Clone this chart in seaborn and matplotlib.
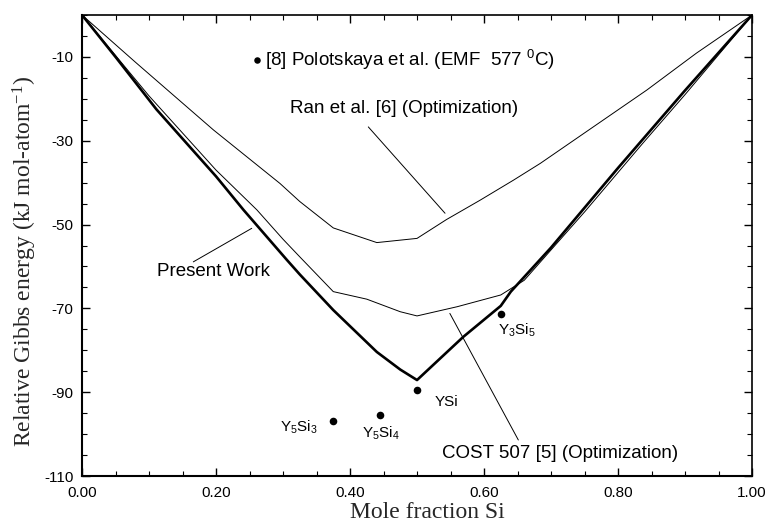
import numpy as np
import pandas as pd
import matplotlib
matplotlib.use("Agg")
import matplotlib.pyplot as plt
from matplotlib.ticker import MultipleLocator, FixedLocator
import seaborn as sns

# ---- data ----
present_x = [0.0, 0.05, 0.111, 0.2, 0.241, 0.305, 0.325, 0.375, 0.44, 0.475, 0.5,
             0.569, 0.625, 0.64, 0.7, 0.8, 0.9, 1.0]
present_y = [0.0, -10.0, -22.5, -38.5, -46.5, -58.3, -61.9, -70.4, -80.4, -84.6, -87.1,
             -76.8, -69.4, -66.0, -55.5, -36.5, -18.0, 0.0]

cost_x = [0.0, 0.1, 0.2, 0.261, 0.3, 0.325, 0.375, 0.425, 0.475, 0.5, 0.56, 0.625,
          0.66, 0.75, 0.837, 0.9, 1.0]
cost_y = [0.0, -19.3, -37.0, -46.5, -53.5, -57.7, -66.0, -67.8, -70.8, -71.8, -69.6, -66.8,
          -63.3, -47.0, -30.6, -19.0, 0.0]

ran_x = [0.0, 0.08, 0.196, 0.2955, 0.325, 0.375, 0.44, 0.5, 0.544, 0.594, 0.644,
         0.684, 0.843, 0.917, 1.0]
ran_y = [0.0, -11.3, -27.4, -40.2, -44.5, -50.8, -54.3, -53.3, -48.8, -44.2, -39.4,
         -35.4, -17.9, -9.1, 0.0]

compound_names = [r"Y$\mathregular{_5}$Si$\mathregular{_3}$",
                  r"Y$\mathregular{_5}$Si$\mathregular{_4}$",
                  "YSi",
                  r"Y$\mathregular{_3}$Si$\mathregular{_5}$"]
compound_x = [0.375, 0.444, 0.5, 0.625]
compound_y = [-96.9, -95.5, -89.5, -71.4]
compound_label_x = [0.352, 0.4175, 0.527, 0.621]
compound_label_y = [-98.3, -99.8, -92.3, -75.2]
compound_label_ha = ["right", "left", "left", "left"]

emf_x = [0.2607]
emf_y = [-10.7]
emf_label = r"[8] Polotskaya et al. (EMF  577 $\mathregular{^0}$C)"

curve_labels = ["Ran et al. [6] (Optimization)", "Present Work", "COST 507 [5] (Optimization)"]
curve_label_xy = [(0.3104, -22.3), (0.1115, -61.3), (0.537, -104.6)]
curve_leader_from = [(0.4273, -26.7), (0.1661, -58.9), (0.6512, -101.4)]
curve_leader_to = [(0.5418, -47.3), (0.2533, -50.9), (0.549, -71.2)]

x_ticks = [0.0, 0.2, 0.4, 0.6, 0.8, 1.0]
x_ticklabels = ["0.00", "0.20", "0.40", "0.60", "0.80", "1.00"]
y_ticks = [-10, -30, -50, -70, -90, -110]

# ---- style ----
sns.set_theme(style="ticks")
plt.rcParams["font.family"] = ["Liberation Sans", "DejaVu Sans"]
plt.rcParams["xtick.direction"] = "in"
plt.rcParams["ytick.direction"] = "in"

fig = plt.figure(figsize=(7.68, 5.25), dpi=100)
ax = fig.add_axes([0.1068, 0.0933, 0.9792 - 0.1068, 0.9714 - 0.0933])

sns.lineplot(x=present_x, y=present_y, ax=ax, color="black", linewidth=1.9,
             sort=False, estimator=None)
sns.lineplot(x=cost_x, y=cost_y, ax=ax, color="black", linewidth=0.7,
             sort=False, estimator=None)
sns.lineplot(x=ran_x, y=ran_y, ax=ax, color="black", linewidth=0.7,
             sort=False, estimator=None)

sns.scatterplot(x=compound_x, y=compound_y, ax=ax, color="black", s=30,
                edgecolor="black", linewidth=0, zorder=5)
sns.scatterplot(x=emf_x, y=emf_y, ax=ax, color="black", s=22,
                edgecolor="black", linewidth=0, zorder=5)

for name, lx, ly, ha in zip(compound_names, compound_label_x, compound_label_y, compound_label_ha):
    ax.text(lx, ly, name, ha=ha, va="center", fontsize=11, color="black")

ax.text(0.273, emf_y[0], emf_label, ha="left", va="center", fontsize=13.5, color="black")

for lab, (tx, ty), p0, p1 in zip(curve_labels, curve_label_xy, curve_leader_from, curve_leader_to):
    ax.text(tx, ty, lab, ha="left", va="center", fontsize=13.5, color="black")
    ax.annotate("", xy=p1, xytext=p0,
                arrowprops=dict(arrowstyle="-", color="black", lw=0.7, shrinkA=0, shrinkB=0))

ax.set_xlim(0, 1)
ax.set_ylim(-110, 0)
ax.xaxis.set_major_locator(FixedLocator(x_ticks))
ax.set_xticklabels(x_ticklabels)
ax.xaxis.set_minor_locator(MultipleLocator(0.05))
ax.yaxis.set_major_locator(FixedLocator(y_ticks))
ax.set_yticklabels([str(v) for v in y_ticks])
ax.yaxis.set_minor_locator(MultipleLocator(5))

ax.tick_params(axis="both", which="both", direction="in", top=True, right=True,
               colors="black", labelsize=11)
ax.tick_params(axis="both", which="major", length=6, width=1.0)
ax.tick_params(axis="both", which="minor", length=3.5, width=0.8)
ax.tick_params(axis="x", which="major", pad=7)
ax.tick_params(axis="y", which="major", pad=6)

for side in ["left", "bottom"]:
    ax.spines[side].set_linewidth(1.5)
for side in ["right", "top"]:
    ax.spines[side].set_linewidth(1.2)
for sp in ax.spines.values():
    sp.set_color("black")
    sp.set_visible(True)

ax.set_xlabel("Mole fraction Si", family=["Liberation Serif", "DejaVu Serif"], fontsize=17)
ax.set_ylabel(r"Relative Gibbs energy (kJ mol-atom$\mathregular{^{-1}}$)",
              family=["Liberation Serif", "DejaVu Serif"], fontsize=17)
ax.xaxis.set_label_coords(0.516, -0.057)
ax.yaxis.set_label_coords(-0.064, 0.466)

fig.savefig("out.png", dpi=100, facecolor="white")
